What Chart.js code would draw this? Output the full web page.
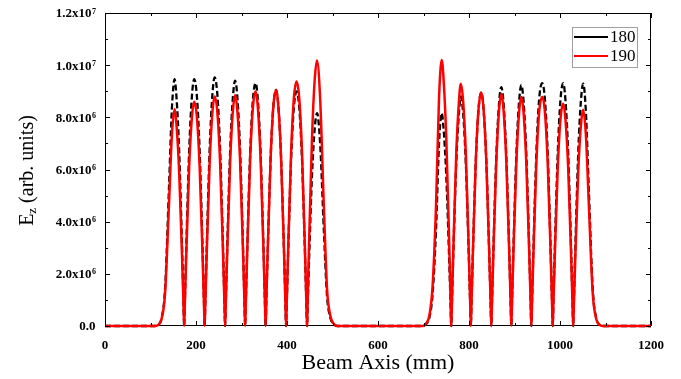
<!DOCTYPE html>
<html lang="en">
<head>
    <meta charset="UTF-8">
    <title>Ez along beam axis</title>
    <script src="https://cdn.jsdelivr.net/npm/chart.js"></script>
    <style>
        body { margin: 0; background: #fff; }
        #box { width: 681px; height: 379px; position: relative; }
    </style>
</head>
<body>
<div id="box"><canvas id="grafico"></canvas></div>
<script>
    // axis ticks (y in units of 10^6)
    const xTicks = [0, 200, 400, 600, 800, 1000, 1200];
    const yTicks = [0, 2, 4, 6, 8, 10, 12];
    const seriesNames = ['180', '190'];

    // beam axis positions (mm)
    const beamPos = [0, 100, 110, 117, 124, 132, 141, 147, 153,
        157, 163, 169.5, 172.5, 174,
        175.5, 178.5, 185, 191, 196, 202, 208, 214.5, 217.5, 219,
        220.5, 223.5, 230, 236, 241, 247, 253, 259.5, 262.5, 264,
        265.5, 268.5, 275, 281, 286, 291, 297, 303.5, 306.5, 308,
        309.5, 312.5, 319, 325, 331, 336, 342, 348.5, 351.5, 353,
        354.5, 357.5, 364, 370, 376, 381, 387, 393.5, 396.5, 398,
        399.5, 402.5, 409, 415, 421, 427, 433, 439.5, 442.5, 444,
        445.5, 448.5, 455, 461, 466, 473, 481, 488, 495, 502, 510,
        600, 699, 706, 713, 720, 727.5, 734, 740,
        744, 750, 756.5, 759.5, 761,
        762.5, 765.5, 772, 778, 782, 787, 793, 799.5, 802.5, 804,
        805.5, 808.5, 815, 821, 827, 832, 838, 844.5, 847.5, 849,
        850.5, 853.5, 860, 866, 871, 876, 882, 888.5, 891.5, 893,
        894.5, 897.5, 904, 910, 915, 920, 926, 932.5, 935.5, 937,
        938.5, 941.5, 948, 954, 961, 967, 973, 979.5, 982.5, 984,
        985.5, 988.5, 995, 1001, 1007, 1012, 1018, 1024.5, 1027.5, 1029,
        1030.5, 1033.5, 1040, 1046, 1051, 1057, 1063, 1072, 1080, 1087, 1094, 1200];

    // Ez (x10^6 arb. units)
    const ez180 = [0, 0, 0, 0.05, 0.28, 1.42, 5.49, 8.32, 9.46,
        8.80, 6.72, 2.93, 0.95, 0,
        0.95, 2.93, 6.72, 8.80, 9.46, 8.80, 6.72, 2.93, 0.95, 0,
        0.95, 2.95, 6.77, 8.86, 9.53, 8.86, 6.77, 2.95, 0.95, 0,
        0.94, 2.92, 6.68, 8.75, 9.41, 8.75, 6.68, 2.92, 0.94, 0,
        0.93, 2.89, 6.61, 8.66, 9.31, 8.66, 6.61, 2.89, 0.93, 0,
        0.91, 2.81, 6.43, 8.42, 9.05, 8.42, 6.43, 2.81, 0.91, 0,
        0.90, 2.79, 6.38, 8.36, 8.99, 8.36, 6.38, 2.79, 0.90, 0,
        0.82, 2.53, 5.79, 7.59, 8.16, 6.94, 3.67, 1.14, 0.33, 0.08, 0,
        0, 0, 0.08, 0.33, 1.22, 3.67, 6.94, 8.16,
        7.59, 5.79, 2.53, 0.82, 0,
        0.88, 2.73, 6.25, 8.18, 8.80, 8.18, 6.25, 2.73, 0.88, 0,
        0.90, 2.77, 6.35, 8.32, 8.95, 8.32, 6.35, 2.77, 0.90, 0,
        0.92, 2.84, 6.50, 8.52, 9.16, 8.52, 6.50, 2.84, 0.92, 0,
        0.92, 2.86, 6.56, 8.59, 9.24, 8.59, 6.56, 2.86, 0.92, 0,
        0.93, 2.89, 6.61, 8.66, 9.31, 8.66, 6.61, 2.89, 0.93, 0,
        0.93, 2.89, 6.61, 8.66, 9.31, 8.66, 6.61, 2.89, 0.93, 0,
        0.93, 2.88, 6.60, 8.64, 9.29, 8.18, 5.39, 1.39, 0.28, 0.05, 0, 0];

    const ez190 = [0, 0, 0, 0.04, 0.25, 1.25, 4.83, 7.32, 8.32,
        7.74, 5.91, 2.58, 0.83, 0,
        0.86, 2.67, 6.11, 8.00, 8.60, 8.00, 6.11, 2.67, 0.86, 0,
        0.88, 2.73, 6.25, 8.18, 8.80, 8.18, 6.25, 2.73, 0.88, 0,
        0.89, 2.74, 6.28, 8.23, 8.85, 8.23, 6.28, 2.74, 0.89, 0,
        0.90, 2.79, 6.38, 8.36, 8.99, 8.36, 6.38, 2.79, 0.90, 0,
        0.91, 2.81, 6.43, 8.42, 9.05, 8.42, 6.43, 2.81, 0.91, 0,
        0.94, 2.90, 6.65, 8.71, 9.37, 8.71, 6.65, 2.90, 0.94, 0,
        1.02, 3.16, 7.23, 9.47, 10.18, 8.65, 4.58, 1.43, 0.41, 0.10, 0,
        0, 0, 0.10, 0.41, 1.53, 4.59, 8.67, 10.20,
        9.49, 7.24, 3.16, 1.02, 0,
        0.93, 2.88, 6.60, 8.64, 9.29, 8.64, 6.60, 2.88, 0.93, 0,
        0.90, 2.77, 6.35, 8.32, 8.95, 8.32, 6.35, 2.77, 0.90, 0,
        0.89, 2.76, 6.31, 8.27, 8.89, 8.27, 6.31, 2.76, 0.89, 0,
        0.88, 2.72, 6.23, 8.17, 8.78, 8.17, 6.23, 2.72, 0.88, 0,
        0.88, 2.72, 6.23, 8.17, 8.78, 8.17, 6.23, 2.72, 0.88, 0,
        0.85, 2.64, 6.05, 7.92, 8.52, 7.92, 6.05, 2.64, 0.85, 0,
        0.83, 2.57, 5.89, 7.71, 8.29, 7.30, 4.81, 1.24, 0.25, 0.04, 0, 0];

    const serif = "'Liberation Serif', 'Times New Roman', serif";

    function pontos(ys) {
        return beamPos.map((x, i) => ({ x: x, y: ys[i] }));
    }

    // frame, inward ticks, y labels with exponents, y title, legend
    const moldura = {
        id: 'moldura',
        beforeDatasetsDraw(chart) {
            const { ctx, chartArea: a } = chart;
            ctx.save();
            ctx.strokeStyle = '#000';
            ctx.lineWidth = 1;
            ctx.strokeRect(Math.round(a.left) + 0.5, Math.round(a.top) + 0.5,
                Math.round(a.right - a.left) - 1, Math.round(a.bottom - a.top) - 1);
            ctx.restore();
        },
        afterDraw(chart) {
            const { ctx, chartArea: a, scales } = chart;
            const sx = scales.x, sy = scales.y;
            ctx.save();
            ctx.strokeStyle = '#000';
            ctx.lineWidth = 1;
            ctx.beginPath();
            for (let v = 0; v <= 1200; v += 100) {
                const p = Math.round(sx.getPixelForValue(v)) + 0.5;
                const len = xTicks.includes(v) ? 5 : 3;
                ctx.moveTo(p, a.bottom); ctx.lineTo(p, a.bottom - len);
                ctx.moveTo(p, a.top); ctx.lineTo(p, a.top + len);
            }
            for (let v = 0; v <= 12; v += 1) {
                const p = Math.round(sy.getPixelForValue(v)) + 0.5;
                const len = yTicks.includes(v) ? 5 : 3;
                ctx.moveTo(a.left, p); ctx.lineTo(a.left + len, p);
                ctx.moveTo(a.right, p); ctx.lineTo(a.right - len, p);
            }
            ctx.stroke();

            // y tick labels like 2.0x10^6
            ctx.fillStyle = '#000';
            const direita = a.left - 9;
            yTicks.forEach(v => {
                const y = sy.getPixelForValue(v);
                let mant, exp = '';
                if (v === 0) {
                    mant = '0.0';
                } else {
                    const real = v * 1e6;
                    const e = Math.floor(Math.log10(real));
                    mant = (real / Math.pow(10, e)).toFixed(1) + 'x10';
                    exp = String(e);
                }
                ctx.font = 'bold 8px ' + serif;
                const we = exp ? ctx.measureText(exp).width : 0;
                ctx.textBaseline = 'alphabetic';
                ctx.textAlign = 'left';
                if (exp) ctx.fillText(exp, direita - we, y + 0.5);
                ctx.font = 'bold 13px ' + serif;
                ctx.textBaseline = 'middle';
                ctx.textAlign = 'right';
                ctx.fillText(mant, direita - we - 0.5, y + 1);
            });

            // y title with subscript
            ctx.save();
            ctx.translate(28, (a.top + a.bottom) / 2 + 1);
            ctx.rotate(-Math.PI / 2);
            const fBig = '20px ' + serif, fSub = '13px ' + serif;
            ctx.font = fBig;
            const wE = ctx.measureText('E').width;
            const resto = ' (arb. units)';
            const wR = ctx.measureText(resto).width;
            ctx.font = fSub;
            const wZ = ctx.measureText('z').width;
            let x0 = -(wE + wZ + wR) / 2;
            ctx.textBaseline = 'middle';
            ctx.textAlign = 'left';
            ctx.font = fBig;
            ctx.fillText('E', x0, 0);
            ctx.font = fSub;
            ctx.fillText('z', x0 + wE, 5);
            ctx.font = fBig;
            ctx.fillText(resto, x0 + wE + wZ, 0);
            ctx.restore();

            // legend
            ctx.strokeStyle = '#a0a0a0';
            ctx.lineWidth = 1;
            ctx.strokeRect(572.5, 27.5, 65, 40);
            chart.data.datasets.forEach((ds, i) => {
                const y = 37 + i * 19;
                ctx.strokeStyle = ds.borderColor;
                ctx.lineWidth = 2;
                ctx.beginPath();
                ctx.moveTo(574, y); ctx.lineTo(608, y);
                ctx.stroke();
                ctx.fillStyle = '#000';
                ctx.font = '17px ' + serif;
                ctx.textBaseline = 'middle';
                ctx.textAlign = 'left';
                ctx.fillText(ds.label, 610, y + 1);
            });
            ctx.restore();
        }
    };

    new Chart(document.getElementById('grafico'), {
        type: 'line',
        data: {
            datasets: [{
                label: seriesNames[0],
                data: pontos(ez180),
                borderColor: '#000000',
                borderWidth: 2.3,
                borderDash: [6, 3],
                order: 1,
                clip: 3
            }, {
                label: seriesNames[1],
                data: pontos(ez190),
                borderColor: '#ff0000',
                borderWidth: 2.5,
                order: 0,
                clip: 3
            }]
        },
        options: {
            responsive: true,
            maintainAspectRatio: false,
            animation: false,
            layout: { padding: { top: 13, right: 30, left: 0, bottom: 0 } },
            elements: {
                point: { radius: 0 },
                line: { cubicInterpolationMode: 'monotone', fill: false }
            },
            scales: {
                x: {
                    type: 'linear',
                    min: 0,
                    max: 1200,
                    afterBuildTicks: s => { s.ticks = xTicks.map(v => ({ value: v })); },
                    afterFit: s => { s.height = 53; },
                    grid: { display: false },
                    border: { display: false },
                    ticks: {
                        color: '#000',
                        padding: 4,
                        maxRotation: 0,
                        autoSkip: false,
                        callback: v => String(v),
                        font: { family: serif, weight: 'bold', size: 13 }
                    },
                    title: {
                        display: true,
                        text: 'Beam Axis (mm)',
                        color: '#000',
                        padding: { top: 0, bottom: 3 },
                        font: { family: serif, size: 22 }
                    }
                },
                y: {
                    type: 'linear',
                    min: 0,
                    max: 12,
                    afterBuildTicks: s => { s.ticks = yTicks.map(v => ({ value: v })); },
                    afterFit: s => { s.width = 105; },
                    grid: { display: false },
                    border: { display: false },
                    ticks: { display: false }
                }
            },
            plugins: {
                legend: { display: false },
                tooltip: { enabled: false }
            }
        },
        plugins: [moldura]
    });
</script>
</body>
</html>
